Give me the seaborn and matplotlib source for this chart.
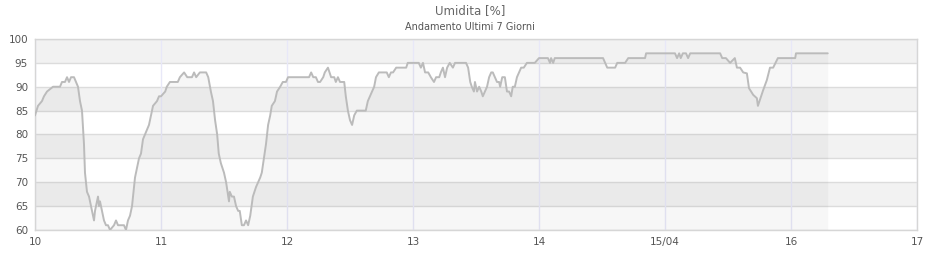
import matplotlib
matplotlib.use("Agg")
import matplotlib.pyplot as plt
import seaborn as sns
import numpy as np
import pandas as pd

# hours since 10/04 00:00
hours = [0, 0.57, 1.33, 1.71, 2.29, 3.43, 4.0, 4.76, 5.14, 5.71, 6.10, 6.48, 6.86, 7.43, 7.81,
         8.19, 8.57, 8.95, 9.33, 9.52, 9.71, 9.90, 10.29, 10.67, 11.05, 11.24, 11.43, 11.81, 12.0,
         12.19, 12.38, 12.76, 13.14, 13.52, 13.90, 14.29, 14.67, 15.05, 15.43, 15.81, 16.38, 16.95,
         17.33, 17.71, 18.10, 18.48, 18.67, 19.05, 19.43, 19.81, 20.19, 20.57, 20.95, 21.33, 21.71,
         22.10, 22.48, 23.24, 23.62, 24.0,
         24.8, 25.1, 25.7, 26.7, 27.2, 27.6, 28.4, 29.0, 29.9, 30.3, 30.7, 31.4, 32.6, 33.0, 33.5,
         33.9, 34.3, 34.7, 35.0, 35.4, 36.0, 36.4, 36.95, 37.1, 37.5, 37.9, 38.3, 38.7, 39.0, 39.4,
         39.8, 40.2, 40.6, 41.0, 41.5, 42.1, 42.5, 42.9, 43.2, 43.6, 44.0, 44.4, 44.8, 45.1, 45.7,
         46.1, 46.7, 47.2, 47.8,
         48.2, 49.5, 51.4, 52.2, 52.6, 53.0, 53.5, 53.9, 54.3, 54.9, 55.2, 55.8, 56.4, 57.0, 57.3,
         57.7, 58.1, 58.9, 59.2, 59.6, 60.0, 60.4, 60.8, 61.3, 61.9, 63.0, 63.4, 63.8, 64.2, 64.6,
         64.95, 65.5, 66.3, 67.0, 67.4, 67.8, 68.2, 68.8, 69.5, 70.7, 71.0, 72.0,
         73.1, 73.5, 73.9, 74.3, 74.9, 75.4, 76.0, 76.4, 77.0, 77.3, 77.7, 78.1, 78.5, 79.0, 79.6,
         80.0, 80.6, 82.1, 82.5, 82.9, 83.2, 83.6, 83.8, 84.2, 84.6, 85.0, 85.3, 85.7, 86.1, 86.5,
         86.9, 87.2, 87.6, 88.0, 88.4, 88.6, 89.0, 89.5, 89.9, 90.3, 90.7, 91.0, 91.4, 91.8, 92.2,
         92.6, 93.1, 93.7, 95.2, 96.0,
         96.2, 97.7, 98.1, 98.3, 98.7, 99.0, 100.0, 107.6, 108.2, 108.6, 109.0, 110.5, 110.9, 112.4,
         113.0, 115.3, 116.2, 116.4, 119.0, 120.0,
         121.9, 122.3, 122.7, 123.0, 123.4, 124.0, 124.4, 124.8, 130.5, 130.9, 131.6, 132.4, 133.3,
         133.7, 134.3, 134.9, 135.6, 136.0, 136.4, 136.8, 137.1, 137.5, 137.7, 138.1, 138.7, 139.4,
         140.0, 140.6, 141.5, 144.4, 144.8, 144.95, 151.0]

humidity = [84, 86, 87, 88, 89, 90, 90, 90, 91, 91, 92, 91, 92, 92, 91,
            90, 87, 85, 78, 72, 70, 68, 67, 65, 63, 62, 64, 66, 67,
            65, 66, 64, 62, 61, 61, 60, 60.5, 61, 62, 61, 61, 61,
            60, 62, 63, 65, 67, 71, 73, 75, 76, 79, 80, 81, 82,
            84, 86, 87, 88, 88,
            89, 90, 91, 91, 91, 92, 93, 92, 92, 93, 92, 93, 93, 92, 89,
            87, 83, 80, 76, 74, 72, 70, 66, 68, 67, 67, 65, 64, 64, 61,
            61, 62, 61, 63, 67, 69, 70, 71, 72, 75, 78, 82, 84, 86, 87,
            89, 90, 91, 91,
            92, 92, 92, 92, 93, 92, 92, 91, 91, 92, 93, 94, 92, 92, 91,
            92, 91, 91, 88, 85, 83, 82, 84, 85, 85, 85, 87, 88, 89, 90,
            92, 93, 93, 93, 92, 93, 93, 94, 94, 94, 95, 95,
            95, 94, 95, 93, 93, 92, 91, 92, 92, 93, 94, 92, 94, 95, 94,
            95, 95, 95, 94, 91, 90, 89, 91, 89, 90, 89, 88, 89, 90, 92,
            93, 93, 92, 91, 91, 90, 92, 92, 89, 89, 88, 90, 90, 92, 93,
            94, 94, 95, 95, 96,
            96, 96, 95, 96, 95, 96, 96, 96, 96, 95, 94, 94, 95, 95,
            96, 96, 96, 97, 97, 97,
            97, 96, 97, 96, 97, 97, 96, 97, 97, 96, 96, 95, 96,
            94, 94, 93, 92.8, 89.7, 89, 88.3, 88, 87.6, 86, 87.3, 89.3, 91.4,
            94, 94, 96, 96, 96, 97, 97]

day_ticks = [10, 11, 12, 13, 14, 15, 16, 17]
day_labels = ["10", "11", "12", "13", "14", "15/04", "16", "17"]
y_ticks = [60, 65, 70, 75, 80, 85, 90, 95, 100]

df = pd.DataFrame({"day": 10 + np.array(hours) / 24.0, "humidity": humidity})

sns.set_theme(style="white")
plt.rcParams['font.family'] = ['DejaVu Sans']

fig = plt.figure(figsize=(9.4, 2.6), dpi=100)
ax = fig.add_axes([35/940, 1 - 230/260, (917-35)/940, (230-39)/260])

# alternating bands
for i, lo in enumerate(y_ticks[:-1]):
    if i % 2 == 1:
        ax.axhspan(lo, lo + 5, color="#f2f2f2", zorder=0, lw=0)

for yv in y_ticks:
    ax.axhline(yv, color="#dcdcdc", lw=1, zorder=1)
for d in day_ticks:
    ax.axvline(d, color="#e8e8f8", lw=1, zorder=1)

ax.fill_between(df["day"], 60, df["humidity"], color="black", alpha=0.03, lw=0, zorder=2)
sns.lineplot(data=df, x="day", y="humidity", ax=ax, color="#bbbbbb", lw=1.4, zorder=3)

ax.set_xlim(10, 17)
ax.set_ylim(60, 100)
ax.set_xticks(day_ticks)
ax.set_xticklabels(day_labels)
ax.set_yticks(y_ticks)
ax.set_xlabel("")
ax.set_ylabel("")
ax.tick_params(axis="both", length=0, labelsize=7.5, labelcolor="#555555", pad=5)
for s in ax.spines.values():
    s.set_color("#d6d6d6")
    s.set_linewidth(1)

fig.text(0.5, 1 - 11/260, "Umidita [%]", ha="center", va="center", fontsize=8.5, color="#666666")
fig.text(0.5, 1 - 27/260, "Andamento Ultimi 7 Giorni", ha="center", va="center", fontsize=7, color="#555555")

fig.savefig("out.png", dpi=100)
